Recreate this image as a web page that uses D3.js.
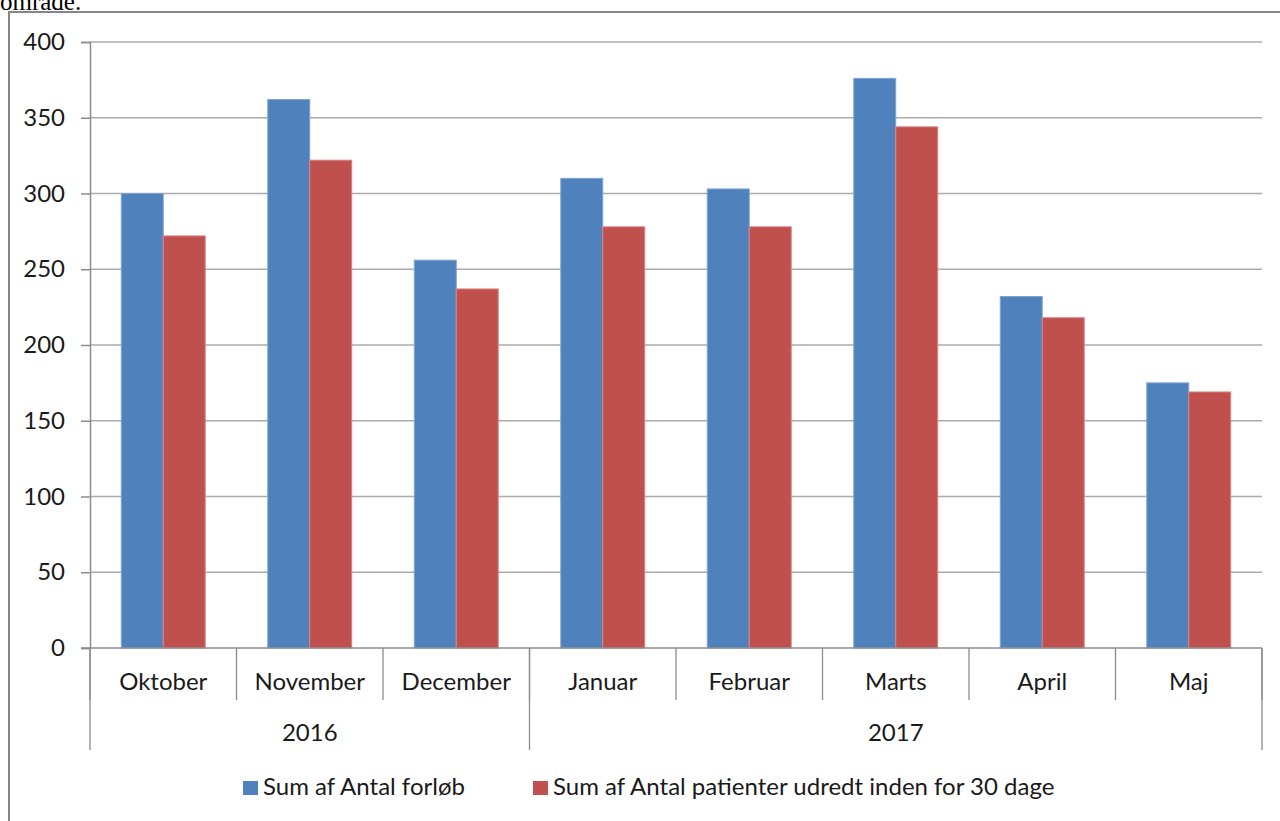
<!DOCTYPE html>
<html>
<head>
<meta charset="utf-8">
<script src="https://cdn.jsdelivr.net/npm/d3@7"></script>
<style>
  body { margin: 0; background: #fff; }
  svg text { font-family: Lato, "Open Sans", sans-serif; fill: #1a1a1a; }
  svg text.note { font-family: "Liberation Serif", "Times New Roman", serif; fill: #000; }
</style>
</head>
<body>
<div id="chart"></div>
<script>
// data
var months = ["Oktober", "November", "December", "Januar", "Februar", "Marts", "April", "Maj"];
var years = ["2016", "2017"];
var monthsPerYear = [3, 5];
var seriesNames = ["Sum af Antal forløb", "Sum af Antal patienter udredt inden for 30 dage"];
var forloeb = [300, 362, 256, 310, 303, 376, 232, 175];
var udredt = [272, 322, 237, 278, 278, 344, 218, 169];
var yTicks = [0, 50, 100, 150, 200, 250, 300, 350, 400];

var width = 1280, height = 821;
var colors = ["#4F81BD", "#C0504D"];
var edges = ["#7FA3D3", "#D88482"];
var fontSize = "24px";

var svg = d3.select("#chart").append("svg")
  .attr("width", width)
  .attr("height", height);

// caption from the page above the chart, cut off by the crop
svg.append("text")
  .attr("class", "note")
  .attr("x", 0)
  .attr("y", 10)
  .style("font-size", "25px")
  .text("område.");

// chart frame
svg.append("rect")
  .attr("x", 9)
  .attr("y", 12)
  .attr("width", 1290)
  .attr("height", 830)
  .attr("fill", "none")
  .attr("stroke", "#868686")
  .attr("stroke-width", 2);

var x0 = d3.scaleBand().domain(months).range([90, 1262])
  .paddingInner(0.427).paddingOuter(0.2135);
var x1 = d3.scaleBand().domain([0, 1]).range([0, x0.bandwidth()]);
var y = d3.scaleLinear().domain([0, 400]).range([648, 42]);

// gridlines
svg.append("g").selectAll("line")
  .data(yTicks.filter(function(d) { return d > 0; }))
  .enter().append("line")
    .attr("x1", 90).attr("x2", 1262)
    .attr("y1", function(d) { return y(d); })
    .attr("y2", function(d) { return y(d); })
    .attr("stroke", "#ababab")
    .attr("stroke-width", 1.6);

// y axis
var yAxis = svg.append("g")
  .attr("transform", "translate(90,0)")
  .call(d3.axisLeft(y).tickValues(yTicks).tickSize(9).tickPadding(16));
yAxis.select(".domain").attr("stroke", "#8c8c8c").attr("stroke-width", 1.5);
yAxis.selectAll(".tick line").attr("stroke", "#8c8c8c").attr("stroke-width", 1.5);
yAxis.selectAll(".tick text")
  .style("font-size", fontSize)
  .style("font-family", "Lato, sans-serif")
  .attr("fill", "#1a1a1a");

// bars
var series = [forloeb, udredt];
series.forEach(function(vals, s) {
  svg.append("g").selectAll("rect")
    .data(vals)
    .enter().append("rect")
      .attr("x", function(d, i) { return x0(months[i]) + x1(s); })
      .attr("y", function(d) { return y(d); })
      .attr("width", x1.bandwidth())
      .attr("height", function(d) { return y(0) - y(d); })
      .attr("fill", colors[s])
      .attr("stroke", edges[s])
      .attr("stroke-width", 1);
});

// x axis baseline
svg.append("line")
  .attr("x1", 81).attr("x2", 1262)
  .attr("y1", 648).attr("y2", 648)
  .attr("stroke", "#8c8c8c").attr("stroke-width", 1.5);

// month separators and labels
var step = x0.step();
var monthBounds = d3.range(months.length + 1).map(function(i) { return 90 + i * step; });
svg.append("g").selectAll("line")
  .data(monthBounds)
  .enter().append("line")
    .attr("x1", function(d) { return d; })
    .attr("x2", function(d) { return d; })
    .attr("y1", 648)
    .attr("y2", 700)
    .attr("stroke", "#8c8c8c").attr("stroke-width", 1.3);

svg.append("g").selectAll("text")
  .data(months)
  .enter().append("text")
    .attr("x", function(d) { return x0(d) + x0.bandwidth() / 2; })
    .attr("y", 690)
    .attr("text-anchor", "middle")
    .style("font-size", fontSize)
    .text(function(d) { return d; });

// year groups
var yearBounds = [90];
monthsPerYear.forEach(function(n, i) { yearBounds.push(yearBounds[i] + n * step); });
svg.append("g").selectAll("line")
  .data(yearBounds)
  .enter().append("line")
    .attr("x1", function(d) { return d; })
    .attr("x2", function(d) { return d; })
    .attr("y1", 648)
    .attr("y2", 750)
    .attr("stroke", "#8c8c8c").attr("stroke-width", 1.3);

svg.append("g").selectAll("text")
  .data(years)
  .enter().append("text")
    .attr("x", function(d, i) { return (yearBounds[i] + yearBounds[i + 1]) / 2; })
    .attr("y", 741)
    .attr("text-anchor", "middle")
    .style("font-size", fontSize)
    .text(function(d) { return d; });

// legend
var legendX = [243, 533];
var legend = svg.append("g").selectAll("g")
  .data(seriesNames)
  .enter().append("g")
    .attr("transform", function(d, i) { return "translate(" + legendX[i] + ",781)"; });
legend.append("rect")
  .attr("width", 15).attr("height", 14)
  .attr("fill", function(d, i) { return colors[i]; });
legend.append("text")
  .attr("x", 20)
  .attr("y", 14)
  .style("font-size", fontSize)
  .text(function(d) { return d; });
</script>
</body>
</html>
